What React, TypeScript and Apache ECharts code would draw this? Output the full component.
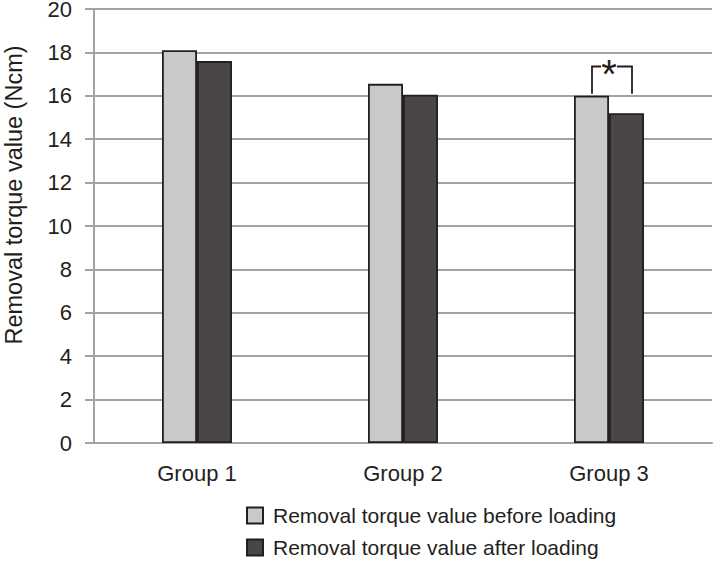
import React, { useEffect, useRef } from "react";
import * as echarts from "echarts";

const categories = ["Group 1", "Group 2", "Group 3"];
const beforeLoading = [18.1, 16.55, 16.0];
const afterLoading = [17.6, 16.05, 15.2];
const seriesNames = ["Removal torque value before loading", "Removal torque value after loading"];
const yAxisName = "Removal torque value (Ncm)";
const sigGroupIndex = 2;
const sigTopValue = 17.35;

export default function App() {
  const ref = useRef<HTMLDivElement>(null);
  useEffect(() => {
    if (!ref.current) return;
    const chart = echarts.init(ref.current, undefined, { renderer: "svg" });
    const font = "'Liberation Sans', Arial, Helvetica, sans-serif";
    const grey = "#a3a3a3";
    const text = "#231f20";
    chart.setOption({
      animation: false,
      textStyle: { fontFamily: font },
      grid: { left: 94, right: 8, top: 9, bottom: 121, containLabel: false, outerBoundsMode: "none" },
      legend: {
        orient: "vertical",
        left: 241,
        top: 500,
        padding: 5,
        itemWidth: 16,
        itemHeight: 16,
        itemGap: 11,
        icon: "rect",
        textStyle: { fontSize: 21, color: text, fontFamily: font, padding: [0, 0, 0, 5] },
        data: seriesNames,
      },
      xAxis: {
        type: "category",
        data: categories,
        axisTick: { show: false },
        axisLine: { lineStyle: { color: grey, width: 2 } },
        axisLabel: { fontSize: 22, color: text, margin: 19, fontFamily: font },
      },
      yAxis: {
        type: "value",
        min: 0,
        max: 20,
        interval: 2,
        axisLine: { show: true, lineStyle: { color: grey, width: 2 } },
        axisTick: { show: true, length: 9, lineStyle: { color: grey, width: 2 } },
        axisLabel: { fontSize: 22, lineHeight: 16, color: text, margin: 22, fontFamily: font },
        splitLine: { lineStyle: { color: grey, width: 2 } },
      },
      series: [
        {
          name: seriesNames[0],
          type: "bar",
          data: beforeLoading,
          barWidth: 35,
          barGap: "0%",
          itemStyle: { color: "#c9c9c9", borderColor: "#231f20", borderWidth: 1.8 },
        },
        {
          name: seriesNames[1],
          type: "bar",
          data: afterLoading,
          barWidth: 35,
          barGap: "0%",
          itemStyle: { color: "#4a4546", borderColor: "#231f20", borderWidth: 1.8 },
        },
      ],
    });
    const c = chart.convertToPixel({ xAxisIndex: 0 }, sigGroupIndex) as number;
    const yTop = chart.convertToPixel({ yAxisIndex: 0 }, sigTopValue) as number;
    const yBot = (chart.convertToPixel({ yAxisIndex: 0 }, beforeLoading[sigGroupIndex]) as number) - 2;
    const xl = c - 17;
    const xr = c + 23;
    const xm = c;
    const lineStyle = { stroke: "#231f20", lineWidth: 1.8, fill: "none" };
    chart.setOption({
      graphic: [
        {
          type: "text",
          x: 14,
          y: 195,
          rotation: Math.PI / 2,
          style: { text: yAxisName, fontSize: 23.5, fill: text, align: "center", verticalAlign: "middle", fontFamily: font },
        },
        { type: "polyline", shape: { points: [[xl, yBot], [xl, yTop], [xm - 8, yTop]] }, style: lineStyle },
        { type: "polyline", shape: { points: [[xm + 8, yTop], [xr, yTop], [xr, yBot]] }, style: lineStyle },
        {
          type: "text",
          x: xm,
          y: yTop + 7,
          style: { text: "*", fontSize: 40, fill: "#231f20", align: "center", verticalAlign: "middle", fontFamily: font },
        },
      ],
    });
    return () => chart.dispose();
  }, []);
  return <div ref={ref} style={{ width: 720, height: 564, position: "absolute", left: 0, top: 0 }} />;
}
